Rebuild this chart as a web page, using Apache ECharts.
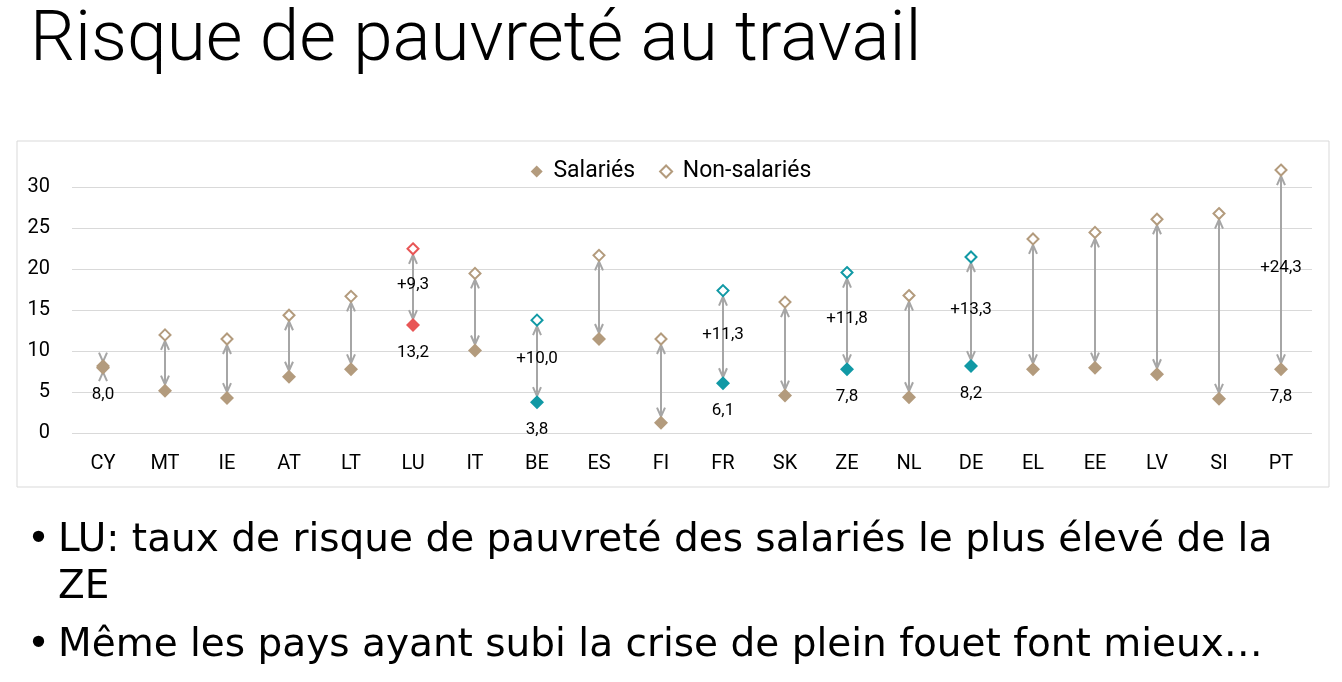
<!DOCTYPE html>
<html>
<head>
<meta charset="utf-8">
<script src="https://cdn.jsdelivr.net/npm/echarts@6/dist/echarts.min.js"></script>
<style>
html,body{margin:0;padding:0;background:#fff;}
#main{width:1342px;height:682px;}
</style>
</head>
<body>
<div id="main"></div>
<script>
const categories = ['CY','MT','IE','AT','LT','LU','IT','BE','ES','FI','FR','SK','ZE','NL','DE','EL','EE','LV','SI','PT'];
const salaries    = [8.0, 5.2, 4.3, 6.9, 7.8, 13.2, 10.1, 3.8, 11.5, 1.3, 6.1, 4.6, 7.8, 4.4, 8.2, 7.8, 8.0, 7.2, 4.2, 7.8];
const nonSalaries = [8.2, 12.0, 11.5, 14.4, 16.7, 22.5, 19.5, 13.8, 21.7, 11.5, 17.4, 16.0, 19.6, 16.8, 21.5, 23.7, 24.5, 26.1, 26.8, 32.1];
const redCountries = ['LU'];
const tealCountries = ['BE','FR','ZE','DE'];
const valueLabelCountries = ['CY','LU','BE','FR','ZE','DE','PT'];
const diffLabelCountries = ['LU','BE','FR','ZE','DE','PT'];
const yTicks = [0, 5, 10, 15, 20, 25, 30];
const titleText = 'Risque de pauvreté au travail';
const bullets = [
  ['LU: taux de risque de pauvreté des salariés le plus élevé de la', 'ZE'],
  ['Même les pays ayant subi la crise de plein fouet font mieux…']
];

const TAN = '#B39B7D', TEAL = '#1199A5', RED = '#E85656', ARROW = '#A6A6A6';
const FONT = 'Roboto, "DejaVu Sans", sans-serif';
const BFONT = '"DejaVu Sans", "Open Sans", sans-serif';
const fmt = v => v.toFixed(1).replace('.', ',');
const colorOf = c => redCountries.includes(c) ? RED : (tealCountries.includes(c) ? TEAL : TAN);

const chart = echarts.init(document.getElementById('main'), null, {renderer: 'canvas'});

const graphics = [
  {type: 'rect', shape: {x: 17, y: 141, width: 1312, height: 346}, style: {fill: 'none', stroke: '#D9D9D9', lineWidth: 1}, silent: true, z: -10},
  {type: 'text', left: 30, top: 7, style: {text: titleText, font: '300 71px ' + FONT, fill: '#000'}}
];
let by = 521;
bullets.forEach((lines) => {
  graphics.push({type: 'text', left: 27, top: by, style: {text: '•', font: '39px ' + BFONT, fill: '#000'}});
  lines.forEach((ln, li) => {
    graphics.push({type: 'text', left: 58, top: by + li * 47, style: {text: ln, font: '39px ' + BFONT, fill: '#000'}});
  });
  by += lines.length * 47 + 11;
});

const option = {
  animation: false,
  textStyle: {fontFamily: FONT},
  grid: {left: 72, right: 30, top: 187.3, bottom: 682 - 433.3, containLabel: false},
  legend: {
    top: 155, left: 'center',
    itemWidth: 12, itemHeight: 12, itemGap: 24,
    formatter: n => ' ' + n,
    textStyle: {fontSize: 23, color: '#000', fontFamily: FONT},
    data: [
      {name: 'Salariés', icon: 'diamond', itemStyle: {color: TAN, opacity: 1}},
      {name: 'Non-salariés', icon: 'emptyDiamond', itemStyle: {color: TAN, borderColor: TAN, borderWidth: 1.5, opacity: 1}}
    ]
  },
  xAxis: {
    type: 'category', data: categories, boundaryGap: true,
    axisLine: {show: false}, axisTick: {show: false},
    axisLabel: {fontSize: 20, color: '#000', margin: 21}
  },
  yAxis: {
    type: 'value', min: 0, max: 30, interval: 5,
    axisLine: {show: false}, axisTick: {show: false},
    axisLabel: {fontSize: 20, color: '#000', margin: 22, formatter: v => yTicks.includes(v) ? String(v) : ''},
    splitLine: {lineStyle: {color: '#D9D9D9', width: 1}}
  },
  graphic: graphics,
  series: [
    {
      type: 'custom', name: 'arrows', clip: false, z: 2,
      data: categories.map((c, i) => [i, salaries[i], nonSalaries[i]]),
      renderItem: function (params, api) {
        const i = api.value(0);
        const c = categories[i];
        const p1 = api.coord([i, api.value(1)]);
        const p2 = api.coord([i, api.value(2)]);
        const x = Math.round(p1[0]);
        const yb = p1[1] - 6, yt = p2[1] + 6;
        const hl = 9, hw = 4;
        const st = {stroke: ARROW, lineWidth: 2, fill: null};
        const children = [
          {type: 'line', shape: {x1: x, y1: yb, x2: x, y2: yt}, style: st},
          {type: 'polyline', shape: {points: [[x - hw, yt + hl], [x, yt], [x + hw, yt + hl]]}, style: st},
          {type: 'polyline', shape: {points: [[x - hw, yb - hl], [x, yb], [x + hw, yb - hl]]}, style: st}
        ];
        if (diffLabelCountries.includes(c)) {
          const d = api.value(2) - api.value(1);
          children.push({type: 'text', z2: 10, style: {text: '+' + fmt(d), x: x, y: (p1[1] + p2[1]) / 2 - 2, align: 'center', verticalAlign: 'middle', font: '17px ' + FONT, fill: '#000'}});
        }
        return {type: 'group', children};
      }
    },
    {
      type: 'scatter', name: 'Non-salariés', clip: false, z: 3,
      symbol: 'emptyDiamond', symbolSize: 11,
      data: nonSalaries.map((v, i) => ({value: v, itemStyle: {color: colorOf(categories[i]), borderColor: colorOf(categories[i])}})),
      itemStyle: {color: TAN, borderColor: TAN, borderWidth: 1.5, opacity: 1}
    },
    {
      type: 'scatter', name: 'Salariés', clip: false, z: 4,
      symbol: 'diamond', symbolSize: 14,
      label: {show: false, position: 'bottom', distance: 12, formatter: p => fmt(p.value), fontSize: 17, color: '#000', fontFamily: FONT},
      data: salaries.map((v, i) => ({
        value: v,
        itemStyle: {color: colorOf(categories[i])},
        label: {show: valueLabelCountries.includes(categories[i])}
      })),
      itemStyle: {color: TAN, opacity: 1}
    }
  ]
};
chart.setOption(option);
</script>
</body>
</html>
